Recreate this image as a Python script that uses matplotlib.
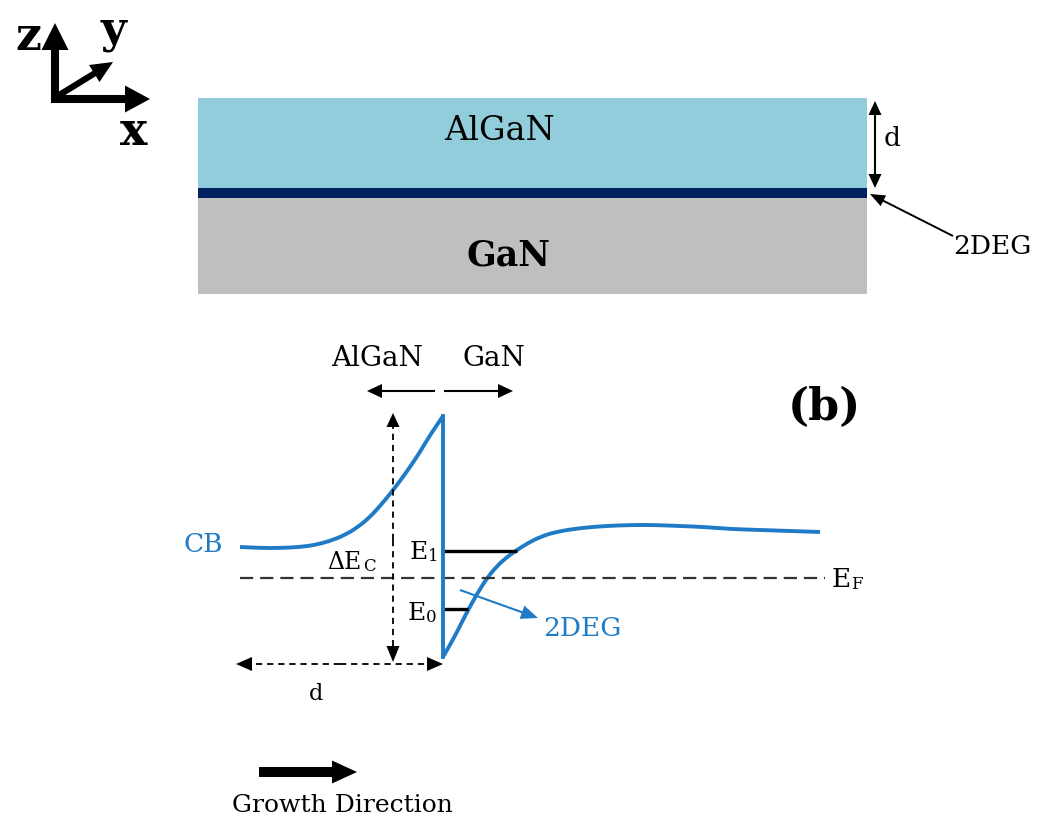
import numpy as np
import matplotlib.pyplot as plt
from matplotlib.patches import Rectangle, Polygon, PathPatch
from matplotlib.path import Path

plt.rcParams['font.family'] = ['DejaVu Serif']
plt.rcParams['lines.scale_dashes'] = False

BLUE = '#1f7bc6'
ALGAN_COLOUR = '#92cddc'
GAN_COLOUR = '#bfbfbf'
DEG_COLOUR = '#002060'

# layer stack, in pixel rows
stack_x = [198, 867]
algan_rows = [98, 188]
deg_rows = [188, 198]
gan_rows = [198, 294]

# conduction band edge: AlGaN barrier, then the GaN side of the well
cb_barrier_x = [240, 260, 280, 300, 315, 330, 345, 358, 370, 380, 390, 400, 410, 420, 430, 443]
cb_barrier_y = [547, 548, 548, 547, 545, 541, 535, 527, 517, 506, 494, 481, 467, 452, 435, 416]
cb_well_x = [443, 450, 458, 467, 477, 487, 497, 507, 517, 528, 540, 555, 580, 605, 630,
             655, 680, 705, 730, 760, 790, 820]
cb_well_y = [657, 645, 630, 612, 594, 578, 566, 557, 550, 543, 537, 532, 528, 526, 525,
             525, 526, 527, 529, 530, 531, 532]

interface_x = 443
fermi_y = 578
fermi_x = [240, 825]
levels = ['E1', 'E0']
level_y = [551, 609]
level_end_x = [517, 468]


def smooth_path(xs, ys):
    '''
    Quadratic Bezier path that passes through the midpoints of the given
    points, using the points themselves as control points.
    '''
    pts = list(zip(xs, ys))
    verts = [pts[0]]
    codes = [Path.MOVETO]
    for i in range(1, len(pts) - 1):
        mid = ((pts[i][0] + pts[i + 1][0]) / 2, (pts[i][1] + pts[i + 1][1]) / 2)
        if i == len(pts) - 2:
            mid = pts[-1]
        verts += [pts[i], mid]
        codes += [Path.CURVE3, Path.CURVE3]
    return Path(verts, codes)


def arrow(ax, x0, y0, x1, y1, color='black', lw=1.5, hl=14, hw=12, dashes=None):
    '''
    Straight line with a filled triangular head at (x1,y1).
    '''
    dx, dy = x1 - x0, y1 - y0
    n = np.hypot(dx, dy)
    ux, uy = dx / n, dy / n
    bx, by = x1 - ux * hl, y1 - uy * hl
    line, = ax.plot([x0, bx + ux], [y0, by + uy], color=color, lw=lw,
                    solid_capstyle='butt', dash_capstyle='butt')
    if dashes is not None:
        line.set_dashes(dashes)
    px, py = -uy, ux
    tri = [(x1, y1), (bx + px * hw / 2, by + py * hw / 2), (bx - px * hw / 2, by - py * hw / 2)]
    ax.add_patch(Polygon(tri, closed=True, facecolor=color, edgecolor='none'))


def sub_label(ax, x, y, main, sub, xs, size=18, subsize=12, dy=2, color='black'):
    ax.text(x, y, main, fontsize=size, ha='left', va='baseline', color=color)
    ax.text(xs, y + dy, sub, fontsize=subsize, ha='left', va='baseline', color=color)


fig = plt.figure(figsize=(10.41, 8.19), dpi=100)
ax = fig.add_axes([0, 0, 1, 1])
ax.set_xlim(0, 1041)
ax.set_ylim(819, 0)
ax.axis('off')

# coordinate system
arrow(ax, 55, 103, 55, 23, lw=5.8, hl=27, hw=27)
arrow(ax, 51, 99, 150, 99, lw=5.8, hl=25, hw=27)
arrow(ax, 56, 97, 113, 62, lw=4.5, hl=22, hw=20)
ax.text(28, 37, 'z', fontsize=33, fontweight='bold', ha='center', va='center')
ax.text(113, 30, 'y', fontsize=32, fontweight='bold', ha='center', va='center')
ax.text(134, 132, 'x', fontsize=33, fontweight='bold', ha='center', va='center')

# layer stack
w = stack_x[1] - stack_x[0]
ax.add_patch(Rectangle((stack_x[0], algan_rows[0]), w, algan_rows[1] - algan_rows[0],
                       facecolor=ALGAN_COLOUR, edgecolor='none'))
ax.add_patch(Rectangle((stack_x[0], deg_rows[0]), w, deg_rows[1] - deg_rows[0],
                       facecolor=DEG_COLOUR, edgecolor='none'))
ax.add_patch(Rectangle((stack_x[0], gan_rows[0]), w, gan_rows[1] - gan_rows[0],
                       facecolor=GAN_COLOUR, edgecolor='none'))
ax.text(500, 131, 'AlGaN', fontsize=24, ha='center', va='center')
ax.text(508, 255, 'GaN', fontsize=25, fontweight='bold', ha='center', va='center')

arrow(ax, 875, 145, 875, 101, lw=1.5, hl=14, hw=13)
arrow(ax, 875, 145, 875, 188, lw=1.5, hl=14, hw=13)
ax.text(892, 139, 'd', fontsize=19, ha='center', va='center')
arrow(ax, 953, 236, 870, 194, lw=1.4, hl=15, hw=12)
ax.text(953, 246, '2DEG', fontsize=19, ha='left', va='center')

# band diagram
ax.text(377, 358, 'AlGaN', fontsize=20, ha='center', va='center')
ax.text(494, 358, 'GaN', fontsize=20, ha='center', va='center')
arrow(ax, 435, 391, 367, 391, lw=1.5, hl=15, hw=14)
arrow(ax, 444, 391, 513, 391, lw=1.5, hl=15, hw=14)
ax.text(824, 407, '(b)', fontsize=32, fontweight='bold', ha='center', va='center')

ax.plot(fermi_x, [fermi_y, fermi_y], color='#333333', lw=1.6, dashes=(9.5, 5))
sub_label(ax, 832, 587, 'E', 'F', 851, size=19, subsize=12, dy=2)

for name, y, xe in zip(levels, level_y, level_end_x):
    ax.plot([interface_x, xe], [y, y], color='black', lw=2.4, solid_capstyle='butt')
sub_label(ax, 410, 559, 'E', '1', 428, size=18, subsize=12, dy=2)
sub_label(ax, 408, 620, 'E', '0', 426, size=18, subsize=12, dy=2)

# conduction band: smooth barrier, sharp drop at the interface, smooth well
ax.add_patch(PathPatch(smooth_path(cb_barrier_x, cb_barrier_y), facecolor='none',
                       edgecolor=BLUE, lw=2.8, capstyle='butt'))
ax.plot([cb_barrier_x[-1], cb_well_x[0]], [cb_barrier_y[-1], cb_well_y[0]],
        color=BLUE, lw=2.8, solid_capstyle='projecting')
ax.add_patch(PathPatch(smooth_path(cb_well_x, cb_well_y), facecolor='none',
                       edgecolor=BLUE, lw=2.8, capstyle='butt'))
ax.text(203, 544, 'CB', fontsize=19, color=BLUE, ha='center', va='center')

arrow(ax, 460, 590, 538, 618, color=BLUE, lw=1.5, hl=17, hw=14)
ax.text(543, 628, '2DEG', fontsize=19, color=BLUE, ha='left', va='center')

# band offset and barrier thickness
arrow(ax, 393, 540, 393, 413, lw=1.3, hl=14, hw=13, dashes=(4.5, 3.5))
arrow(ax, 393, 540, 393, 662, lw=1.3, hl=16, hw=13, dashes=(4.5, 3.5))
sub_label(ax, 327, 569, '\u0394E', 'C', 363, size=17, subsize=12, dy=2)

arrow(ax, 340, 664, 236, 664, lw=1.3, hl=16, hw=14, dashes=(4.5, 3.5))
arrow(ax, 340, 664, 443, 664, lw=1.3, hl=16, hw=14, dashes=(4.5, 3.5))
ax.text(316, 694, 'd', fontsize=16, ha='center', va='center')

# growth direction
arrow(ax, 259, 772, 357, 772, lw=7.2, hl=25, hw=23)
ax.text(342, 805, 'Growth Direction', fontsize=18, ha='center', va='center')

fig.savefig('out.png', dpi=100)
